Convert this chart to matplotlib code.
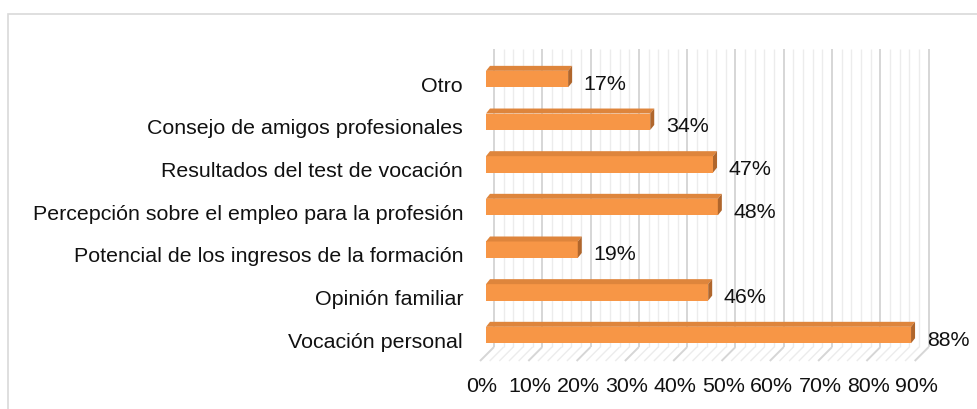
import matplotlib
matplotlib.use("Agg")
import matplotlib.pyplot as plt
from matplotlib.patches import Polygon, Rectangle
from matplotlib.transforms import ScaledTranslation
import numpy as np

plt.rcParams['font.family'] = ['Liberation Sans', 'DejaVu Sans']

categories = ["Vocación personal", "Opinión familiar",
              "Potencial de los ingresos de la formación",
              "Percepción sobre el empleo para la profesión",
              "Resultados del test de vocación",
              "Consejo de amigos profesionales", "Otro"]
values = [0.88, 0.46, 0.19, 0.48, 0.47, 0.34, 0.17]
value_labels = ["88%", "46%", "19%", "48%", "47%", "34%", "17%"]
tick_values = [0.0, 0.1, 0.2, 0.3, 0.4, 0.5, 0.6, 0.7, 0.8, 0.9]
tick_labels = ["0%", "10%", "20%", "30%", "40%", "50%", "60%", "70%", "80%", "90%"]

FS = 15.4
W, H = 978, 410
fig = plt.figure(figsize=(W / 100, H / 100), dpi=100)

# chart frame
fig.patches.append(Rectangle((8 / W, -0.1), 1.2, (H - 15) / H + 0.1,
                             transform=fig.transFigure, fill=False,
                             edgecolor='#D9D9D9', linewidth=1.2))

xmax = 0.9
ylo, yhi = -0.445, 6.70
ax_left, ax_right = 486, 486 + 483 * xmax
ax_top, ax_bot = 50.2, 355
ax = fig.add_axes([ax_left / W, (H - ax_bot) / H, (ax_right - ax_left) / W, (ax_bot - ax_top) / H])
ax.set_xlim(0, xmax)
ax.set_ylim(ylo, yhi)
for s in ax.spines.values():
    s.set_visible(False)
ax.patch.set_visible(False)

# depth offsets (data units)
bdx, bdy = 0.01656, 0.164   # back wall
fdx, fdy = -0.0124, -0.164  # front floor edge
ddx, ddy = 0.0083, 0.117    # bar depth

# back wall gridlines and floor lines
for i in range(0, 46):
    x = i * 0.02
    major = (i % 5 == 0)
    col = '#D6D6D6' if major else '#ECECEC'
    lw = 1.4 if major else 1.0
    ax.plot([x + bdx, x + bdx], [ylo + bdy, yhi], color=col, lw=lw,
            clip_on=False, zorder=1, solid_capstyle='butt')
    ax.plot([x + bdx, x + fdx], [ylo + bdy, ylo + fdy], color=col, lw=lw,
            clip_on=False, zorder=1, solid_capstyle='butt')

# bars
h = 0.385
yy = np.arange(len(categories))
ax.barh(yy, values, height=h, color='#F79646', zorder=3, edgecolor='none')
for y, v, lab in zip(yy, values, value_labels):
    top = Polygon([(0, y + h / 2), (v, y + h / 2), (v + ddx, y + h / 2 + ddy), (ddx, y + h / 2 + ddy)],
                  closed=True, facecolor='#DE853C', edgecolor='none', zorder=3, clip_on=False)
    side = Polygon([(v, y - h / 2), (v, y + h / 2), (v + ddx, y + h / 2 + ddy), (v + ddx, y - h / 2 + ddy)],
                   closed=True, facecolor='#B0662C', edgecolor='none', zorder=3, clip_on=False)
    ax.add_patch(top)
    ax.add_patch(side)
    ax.text(v + ddx + 0.024, y - 0.095, lab, fontsize=FS, va='center', ha='left',
            color='#111111', zorder=4)

ax.set_yticks(yy)
ax.set_yticklabels(categories, fontsize=FS, color='#111111')
ax.set_xticks(tick_values)
ax.set_xticklabels(tick_labels, fontsize=FS, color='#111111')
ax.tick_params(axis='y', length=0, pad=16.5)
ax.tick_params(axis='x', length=0, pad=16)
for lbl in ax.get_xticklabels():
    lbl.set_transform(lbl.get_transform() + ScaledTranslation(-4 / 100, 0, fig.dpi_scale_trans))
for lbl in ax.get_yticklabels():
    lbl.set_transform(lbl.get_transform() + ScaledTranslation(0, -4 / 100, fig.dpi_scale_trans))

fig.savefig("out.png", dpi=100)
